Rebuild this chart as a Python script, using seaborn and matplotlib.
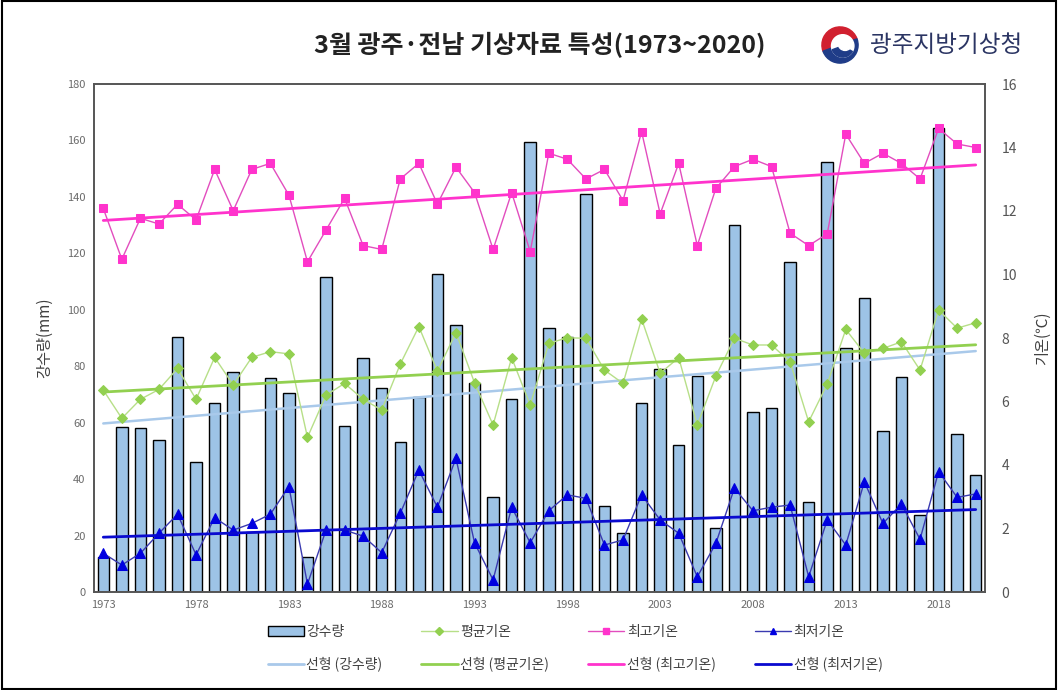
import numpy as np
import pandas as pd
import matplotlib
matplotlib.use("Agg")
import matplotlib.pyplot as plt
import seaborn as sns
from matplotlib.patches import Rectangle, Wedge, Circle, Patch
from matplotlib.lines import Line2D

# ---- data ----
years = list(range(1973, 2021))

rain = [12.4, 58.6, 58.0, 53.9, 90.5, 45.9, 66.9, 77.8, 21.4, 75.7,
        70.4, 12.3, 111.7, 58.9, 83.0, 72.2, 53.3, 69.2, 112.7, 94.6,
        73.9, 33.8, 68.3, 159.6, 93.4, 90.5, 141.0, 30.5, 20.8, 67.1,
        78.9, 52.1, 76.5, 22.6, 130.0, 63.7, 65.3, 117.0, 32.0, 152.5,
        86.6, 104.1, 57.2, 76.3, 27.3, 164.3, 55.9, 41.5]

t_mean = [6.36, 5.47, 6.07, 6.38, 7.04, 6.07, 7.39, 6.52, 7.39, 7.57,
          7.50, 4.87, 6.20, 6.57, 6.07, 5.73, 7.18, 8.36, 6.96, 8.17,
          6.59, 5.26, 7.38, 5.89, 7.83, 8.01, 7.99, 6.99, 6.57, 8.60,
          6.89, 7.38, 5.26, 6.80, 7.99, 7.78, 7.78, 7.25, 5.36, 6.55,
          8.27, 7.52, 7.67, 7.88, 6.99, 8.88, 8.31, 8.48]

t_max = [12.08, 10.48, 11.77, 11.59, 12.21, 11.72, 13.31, 12.01, 13.31, 13.50,
         12.50, 10.40, 11.40, 12.40, 10.91, 10.79, 13.01, 13.50, 12.22, 13.38,
         12.58, 10.79, 12.58, 10.72, 13.82, 13.63, 13.01, 13.31, 12.33, 14.50,
         11.91, 13.50, 10.91, 12.71, 13.40, 13.63, 13.40, 11.30, 10.91, 11.28,
         14.42, 13.50, 13.82, 13.50, 13.01, 14.60, 14.11, 14.00]

t_min = [1.22, 0.85, 1.22, 1.85, 2.45, 1.17, 2.34, 1.95, 2.16, 2.45,
         3.32, 0.25, 1.95, 1.95, 1.76, 1.24, 2.48, 3.84, 2.67, 4.21,
         1.55, 0.38, 2.67, 1.55, 2.56, 3.06, 2.95, 1.48, 1.64, 3.06,
         2.27, 1.85, 0.48, 1.53, 3.27, 2.56, 2.67, 2.74, 0.48, 2.27,
         1.48, 3.47, 2.16, 2.77, 1.66, 3.79, 2.98, 3.09]

xtick_years = list(range(1973, 2021, 5))

df = pd.DataFrame({"year": years, "rain": rain, "mean": t_mean,
                   "max": t_max, "min": t_min})

# linear trends (Excel "선형" trendline)
yr = np.array(years, dtype=float)
for col in ["rain", "mean", "max", "min"]:
    k, b = np.polyfit(yr, df[col].values, 1)
    df[col + "_fit"] = k * yr + b

# ---- colours ----
c_bar = "#9DC3E6"
c_mean = "#92D050"
c_max = "#FF33CC"
c_min = "#0000E0"
c_rain_fit = "#A9C9EA"
c_min_fit = "#0A0ACF"

sns.set_style("white")
plt.rcParams["font.family"] = ["Noto Sans CJK KR", "DejaVu Sans"]

fig = plt.figure(figsize=(10.58, 6.90), dpi=100)
ax = fig.add_axes([94 / 1058, 1 - 592 / 690, (985 - 94) / 1058, (592 - 84) / 690])

sns.barplot(data=df, x="year", y="rain", native_scale=True, ax=ax,
            color=c_bar, edgecolor="black", linewidth=1.0, width=0.62,
            saturation=1)
sns.lineplot(data=df, x="year", y="rain_fit", ax=ax, color=c_rain_fit,
             linewidth=1.8)

ax.set_xlim(1972.5, 2020.5)
ax.set_ylim(0, 180)
ax.set_yticks(range(0, 181, 20))
ax.set_xticks(xtick_years)
ax.set_xticklabels([str(y) for y in xtick_years])
ax.tick_params(axis="both", labelsize=8, labelcolor="#6b6b6b", length=0, pad=6)
ax.set_xlabel("")
ax.set_ylabel("강수량(mm)", fontsize=11, color="#404040", labelpad=10)
for s in ax.spines.values():
    s.set_color("#555555")
    s.set_linewidth(1.2)

ax2 = ax.twinx()
sns.lineplot(data=df, x="year", y="mean", ax=ax2, color="#B7DF88",
             linewidth=1.0, marker="D", markersize=5, markerfacecolor=c_mean,
             markeredgecolor=c_mean)
sns.lineplot(data=df, x="year", y="max", ax=ax2, color="#E24DBE",
             linewidth=1.0, marker="s", markersize=6, markerfacecolor=c_max,
             markeredgecolor=c_max)
sns.lineplot(data=df, x="year", y="min", ax=ax2, color="#3A3AB0",
             linewidth=1.0, marker="^", markersize=7, markerfacecolor=c_min,
             markeredgecolor=c_min)
sns.lineplot(data=df, x="year", y="mean_fit", ax=ax2, color=c_mean, linewidth=2.0)
sns.lineplot(data=df, x="year", y="max_fit", ax=ax2, color=c_max, linewidth=2.0)
sns.lineplot(data=df, x="year", y="min_fit", ax=ax2, color=c_min_fit, linewidth=2.0)

ax2.set_ylim(0, 16)
ax2.set_yticks(range(0, 17, 2))
ax2.set_xlim(1972.5, 2020.5)
ax2.tick_params(axis="y", labelsize=10, labelcolor="#555555", length=0, pad=12)
ax2.set_ylabel("기온(℃)", fontsize=11, color="#404040", labelpad=12)
ax2.set_xlabel("")
for s in ax2.spines.values():
    s.set_color("#555555")
    s.set_linewidth(1.2)

# ---- legend ----
handles = [
    Patch(facecolor=c_bar, edgecolor="black", linewidth=1.0),
    Line2D([], [], color=c_rain_fit, linewidth=2),
    Line2D([], [], color="#B7DF88", linewidth=1, marker="D", markersize=4,
           markerfacecolor=c_mean, markeredgecolor=c_mean),
    Line2D([], [], color=c_mean, linewidth=2),
    Line2D([], [], color="#E24DBE", linewidth=1, marker="s", markersize=5,
           markerfacecolor=c_max, markeredgecolor=c_max),
    Line2D([], [], color=c_max, linewidth=2),
    Line2D([], [], color="#3A3AB0", linewidth=1, marker="^", markersize=5,
           markerfacecolor=c_min, markeredgecolor=c_min),
    Line2D([], [], color=c_min_fit, linewidth=2),
]
labels = ["강수량", "선형 (강수량)", "평균기온", "선형 (평균기온)",
          "최고기온", "선형 (최고기온)", "최저기온", "선형 (최저기온)"]
leg = fig.legend(handles, labels, ncol=4, loc="center",
                 bbox_to_anchor=(575 / 1058, 1 - 648 / 690), frameon=False,
                 fontsize=10, handlelength=2.6, handletextpad=0.2,
                 columnspacing=2.8, labelspacing=1.3)
for t in leg.get_texts():
    t.set_color("#404040")

# ---- title & logo ----
fig.text(540 / 1058, 1 - 45 / 690, "3월 광주·전남 기상자료 특성(1973~2020)",
         ha="center", va="center", fontsize=18, fontweight="bold",
         color="#222222")

lax = fig.add_axes([820 / 1058, 1 - 64 / 690, 40 / 1058, 38 / 690])
lax.set_xlim(-1.05, 1.05)
lax.set_ylim(-1.05, 1.05)
lax.set_aspect("equal")
lax.axis("off")
lax.add_patch(Wedge((0, 0), 1.0, 20, 200, color="#D1202F"))
lax.add_patch(Wedge((0, 0), 1.0, 200, 380, color="#1F3C88"))
lax.add_patch(Circle((0.15, -0.05), 0.62, color="white"))
lax.add_patch(Wedge((0.15, -0.05), 0.62, 200, 330, color="#1F3C88"))
lax.add_patch(Circle((0.28, 0.08), 0.38, color="white"))

fig.text(946 / 1058, 1 - 45 / 690, "광주지방기상청", ha="center", va="center",
         fontsize=17, color="#2B3563")

# outer frame
fig.patches.append(Rectangle((0.002, 0.002), 0.996, 0.996, transform=fig.transFigure,
                             fill=False, edgecolor="black", linewidth=1.5))

fig.savefig("out.png", dpi=100)
